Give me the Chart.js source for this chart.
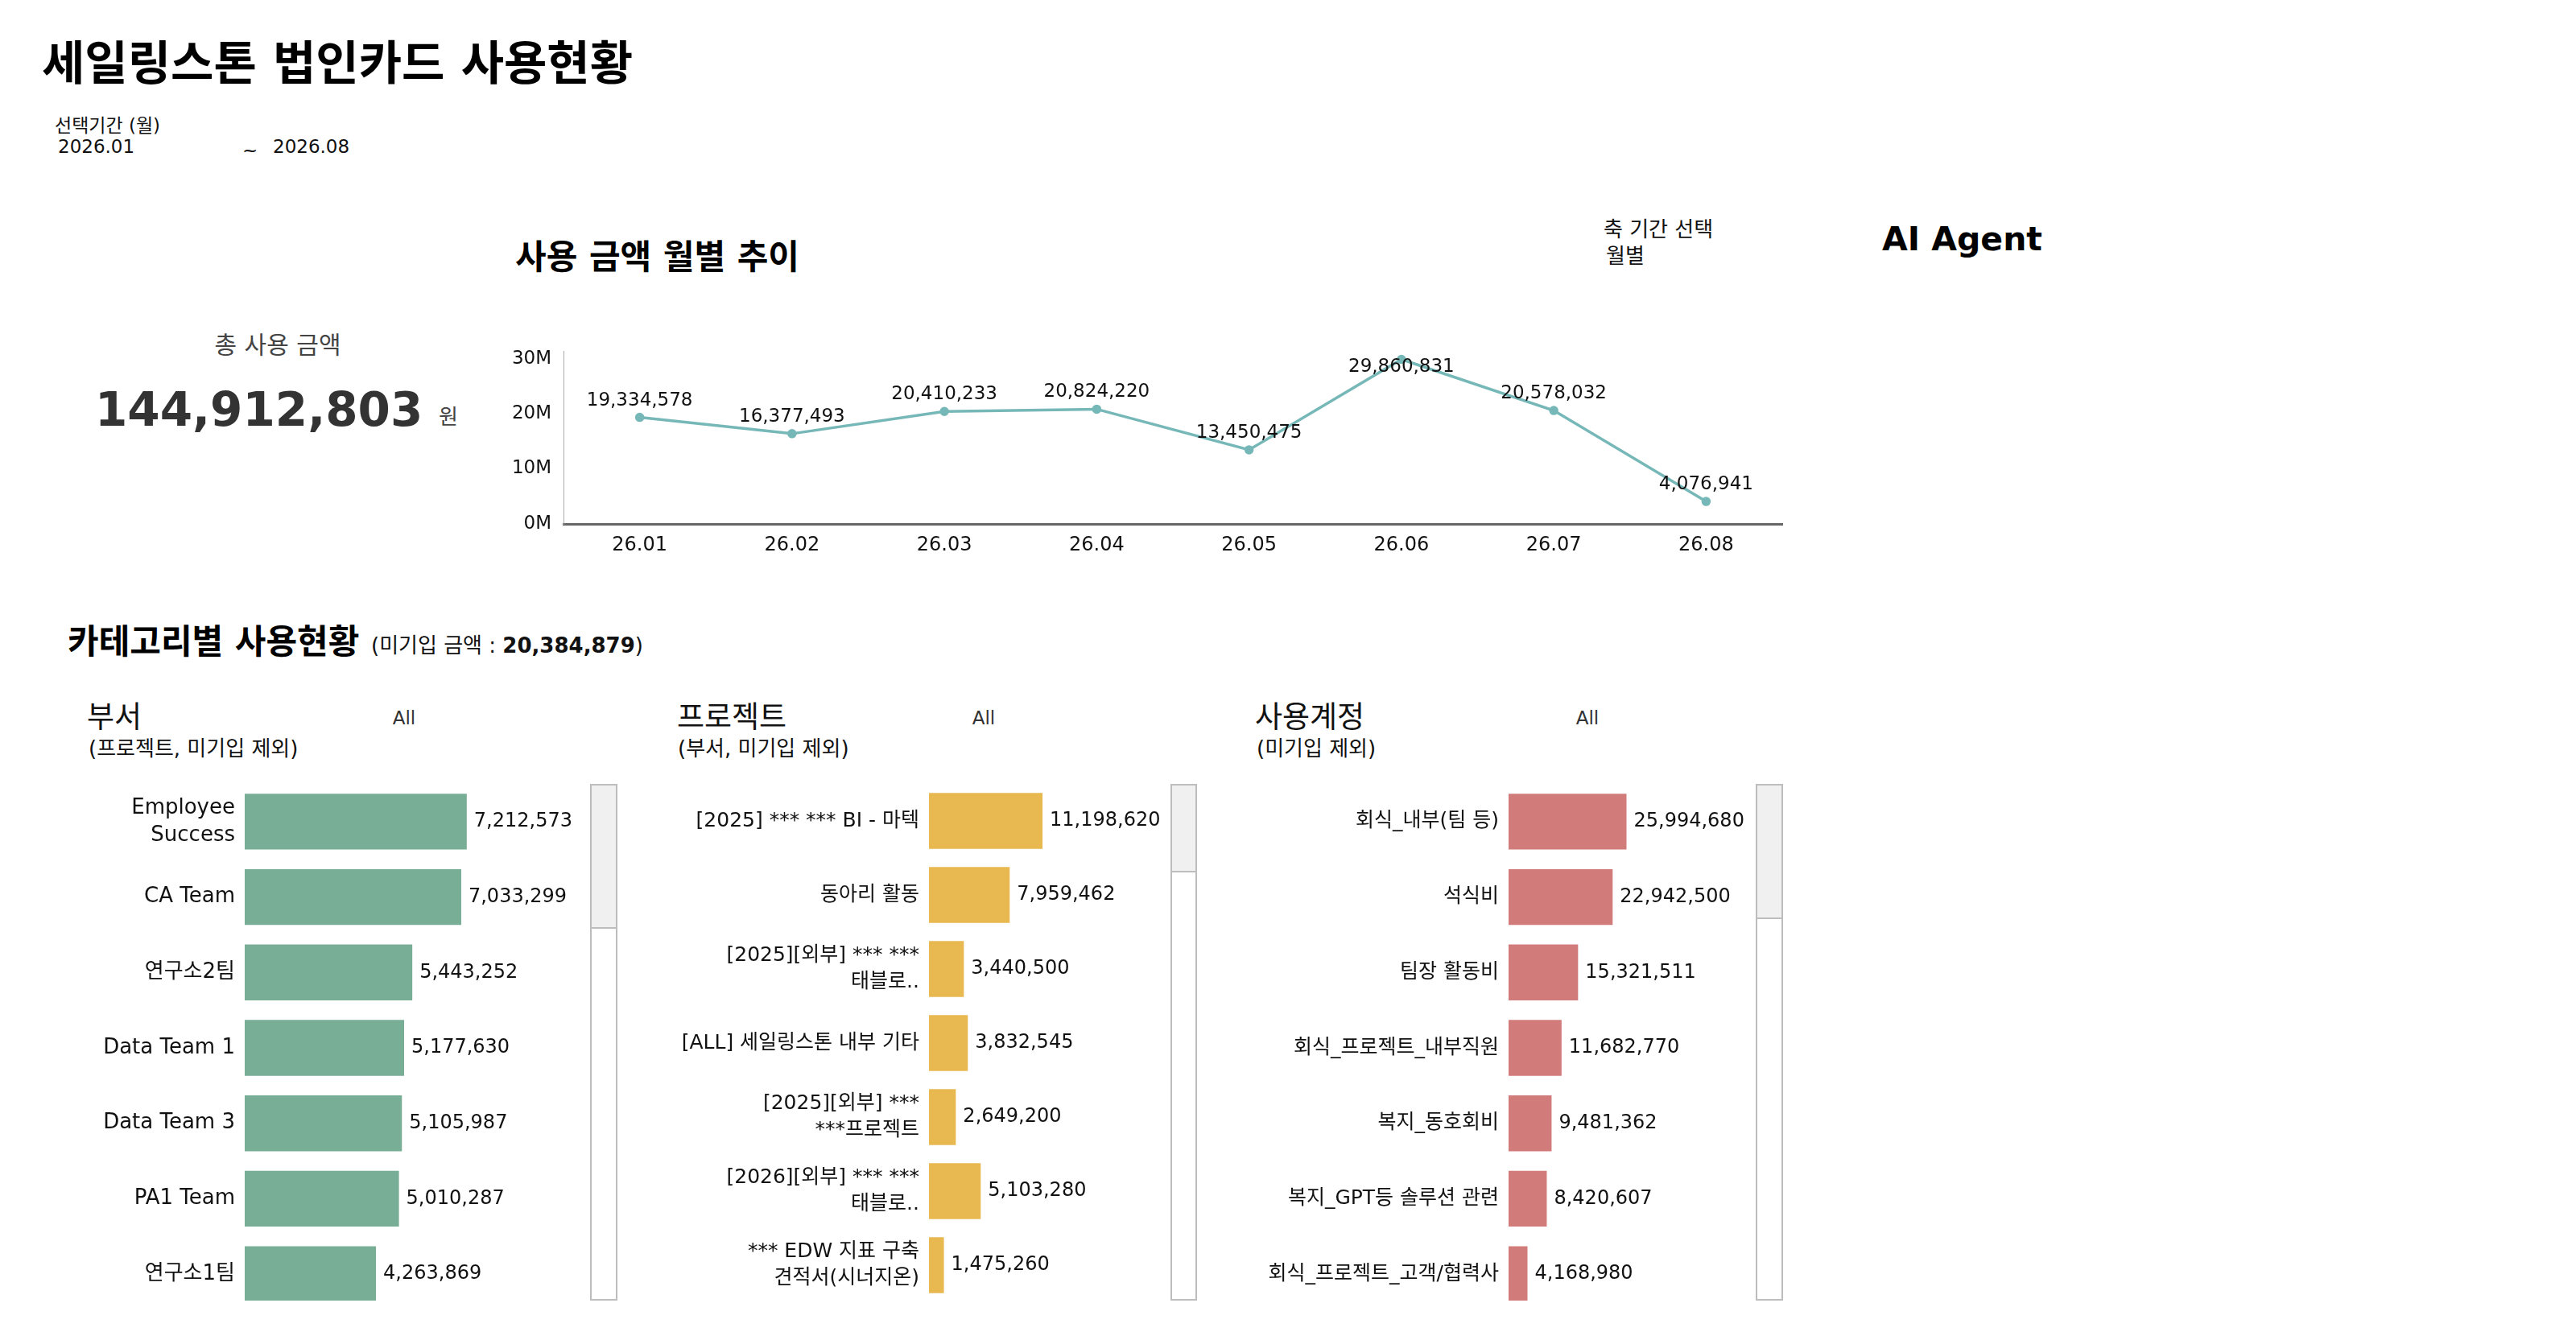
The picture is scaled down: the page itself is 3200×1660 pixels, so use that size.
<!DOCTYPE html>
<html lang="ko">
<head>
<meta charset="utf-8">
<title>세일링스톤 법인카드 사용현황</title>
<script src="https://cdn.jsdelivr.net/npm/chart.js@4.4.1/dist/chart.umd.min.js"></script>
<style>
  html, body { margin: 0; padding: 0; background: #fff; }
  body { width: 3200px; height: 1660px; position: relative; overflow: hidden;
         font-family: 'DejaVu Sans', 'Noto Sans CJK KR', sans-serif; color: #111; }
  .t { position: absolute; line-height: 1; white-space: nowrap; }
  .c { transform: translateX(-50%); }
  canvas { position: absolute; }
  .clip { position: absolute; overflow: hidden; }
  .clip canvas { left: 0; top: 0; }
  .scroll { position: absolute; box-sizing: border-box; border: 2px solid #bdbdbd; background: #fff; }
  .thumb { position: absolute; left: 0; right: 0; top: 0; background: #f0f0f0; border-bottom: 2px solid #bdbdbd; }
</style>
</head>
<body>

<div class="t" style="left:52px;top:50px;font-size:58px;font-weight:bold;color:#000">세일링스톤 법인카드 사용현황</div>
<div class="t" style="left:68px;top:145px;font-size:23px">선택기간 (월)</div>
<div class="t" style="left:72px;top:171px;font-size:23px">2026.01</div>
<div class="t" style="left:301px;top:176px;font-size:23px">~</div>
<div class="t" style="left:339px;top:171px;font-size:23px">2026.08</div>

<div class="t" style="left:640px;top:299px;font-size:42px;font-weight:bold;color:#000">사용 금액 월별 추이</div>
<div class="t" style="left:1992px;top:272px;font-size:26px">축 기간 선택</div>
<div class="t" style="left:1995px;top:305px;font-size:26px">월별</div>
<div class="t" style="left:2338px;top:277px;font-size:41px;font-weight:bold;color:#000">AI Agent</div>

<div class="t c" style="left:345px;top:414px;font-size:30px;color:#444">총 사용 금액</div>
<div class="t" id="total" style="left:118px;top:480px;font-size:58px;font-weight:bold;color:#333"></div>
<div class="t" style="left:545px;top:505px;font-size:26px;color:#444">원</div>

<canvas id="trend" width="1630" height="290" style="left:600px;top:420px"></canvas>

<div class="t" style="left:84px;top:777px;font-size:42px;font-weight:bold;color:#000">카테고리별 사용현황</div>
<div class="t" style="left:461px;top:789px;font-size:26px">(미기입 금액 : <b id="unassigned"></b>)</div>

<div class="t" style="left:108px;top:873px;font-size:37px">부서</div>
<div class="t" style="left:110px;top:917px;font-size:26px">(프로젝트, 미기입 제외)</div>
<div class="t c" style="left:502px;top:881px;font-size:23px;color:#333">All</div>

<div class="t" style="left:841px;top:873px;font-size:37px">프로젝트</div>
<div class="t" style="left:842px;top:917px;font-size:26px">(부서, 미기입 제외)</div>
<div class="t c" style="left:1222px;top:881px;font-size:23px;color:#333">All</div>

<div class="t" style="left:1559px;top:873px;font-size:37px">사용계정</div>
<div class="t" style="left:1561px;top:917px;font-size:26px">(미기입 제외)</div>
<div class="t c" style="left:1972px;top:881px;font-size:23px;color:#333">All</div>

<div class="clip" style="left:80px;top:974px;width:650px;height:642px"><canvas id="dept" width="650" height="656"></canvas></div>
<div class="clip" style="left:820px;top:974px;width:630px;height:642px"><canvas id="project" width="630" height="644"></canvas></div>
<div class="clip" style="left:1540px;top:974px;width:640px;height:642px"><canvas id="account" width="640" height="656"></canvas></div>

<div class="scroll" style="left:733px;top:974px;width:34px;height:642px"><div class="thumb" style="height:176px"></div></div>
<div class="scroll" style="left:1454px;top:974px;width:33px;height:642px"><div class="thumb" style="height:106px"></div></div>
<div class="scroll" style="left:2181px;top:974px;width:34px;height:642px"><div class="thumb" style="height:164px"></div></div>

<script>
// 월별 사용 금액
const months = ['26.01', '26.02', '26.03', '26.04', '26.05', '26.06', '26.07', '26.08'];
const monthlyAmounts = [19334578, 16377493, 20410233, 20824220, 13450475, 29860831, 20578032, 4076941];
const monthTicks = [0, 10000000, 20000000, 30000000];

// 부서
const deptNames = [['Employee', 'Success'], 'CA Team', '연구소2팀', 'Data Team 1', 'Data Team 3', 'PA1 Team', '연구소1팀'];
const deptAmounts = [7212573, 7033299, 5443252, 5177630, 5105987, 5010287, 4263869];

// 프로젝트
const projectNames = [
  '[2025] *** *** BI - 마텍',
  '동아리 활동',
  ['[2025][외부] *** ***', '태블로..'],
  '[ALL] 세일링스톤 내부 기타',
  ['[2025][외부] ***', '***프로젝트'],
  ['[2026][외부] *** ***', '태블로..'],
  ['*** EDW 지표 구축', '견적서(시너지온)'],
];
const projectAmounts = [11198620, 7959462, 3440500, 3832545, 2649200, 5103280, 1475260];

// 사용계정
const accountNames = ['회식_내부(팀 등)', '석식비', '팀장 활동비', '회식_프로젝트_내부직원', '복지_동호회비', '복지_GPT등 솔루션 관련', '회식_프로젝트_고객/협력사'];
const accountAmounts = [25994680, 22942500, 15321511, 11682770, 9481362, 8420607, 4168980];

const unassignedAmount = 20384879;

const FONT = "'DejaVu Sans', 'Noto Sans CJK KR', sans-serif";
Chart.defaults.font.family = FONT;
Chart.defaults.color = '#111';

const fmt = v => v.toLocaleString('en-US');

document.getElementById('total').textContent = fmt(monthlyAmounts.reduce((a, b) => a + b, 0));
document.getElementById('unassigned').textContent = fmt(unassignedAmount);

// no extra room for the end labels, the plot area is fixed by the page layout
const noPad = s => { s.paddingTop = 0; s.paddingBottom = 0; s.paddingLeft = 0; s.paddingRight = 0; };

// value labels above line points
const pointLabels = {
  id: 'pointLabels',
  afterDatasetsDraw(chart) {
    const { ctx, chartArea } = chart;
    const values = chart.data.datasets[0].data;
    ctx.save();
    ctx.font = '23px ' + FONT;
    ctx.fillStyle = '#111';
    ctx.textAlign = 'center';
    ctx.textBaseline = 'middle';
    chart.getDatasetMeta(0).data.forEach((pt, i) => {
      const y = Math.max(pt.y - 21, chartArea.top + 20);
      ctx.fillText(fmt(values[i]), pt.x, y);
    });
    ctx.restore();
  }
};

// value labels at bar ends
const barValues = {
  id: 'barValues',
  afterDatasetsDraw(chart) {
    const { ctx } = chart;
    const values = chart.data.datasets[0].data;
    ctx.save();
    ctx.font = '24px ' + FONT;
    ctx.fillStyle = '#111';
    ctx.textAlign = 'left';
    ctx.textBaseline = 'middle';
    chart.getDatasetMeta(0).data.forEach((bar, i) => {
      ctx.fillText(fmt(values[i]), bar.x + 9, bar.y);
    });
    ctx.restore();
  }
};

new Chart(document.getElementById('trend'), {
  type: 'line',
  data: {
    labels: months,
    datasets: [{
      data: monthlyAmounts,
      borderColor: '#76b7b8',
      backgroundColor: '#76b7b8',
      borderWidth: 3.5,
      pointRadius: 4,
      pointHoverRadius: 4,
      tension: 0,
    }]
  },
  options: {
    responsive: false,
    animation: false,
    layout: { padding: { top: 16, right: 16, left: 0, bottom: 0 } },
    plugins: { legend: { display: false }, tooltip: { enabled: false } },
    scales: {
      x: {
        offset: true,
        grid: { display: false, drawTicks: false },
        border: { color: '#666', width: 3 },
        ticks: { color: '#111', padding: 12, font: { size: 24 } },
        afterFit: s => { noPad(s); s.height = 59; },
      },
      y: {
        min: 0,
        max: 31400000,
        grid: { display: false, drawTicks: false },
        border: { color: '#aaa', width: 1 },
        afterBuildTicks: s => { s.ticks = monthTicks.map(v => ({ value: v })); },
        ticks: { color: '#111', padding: 15, font: { size: 23 }, callback: v => (v / 1000000) + 'M' },
        afterFit: s => { noPad(s); s.width = 100; },
      }
    }
  },
  plugins: [pointLabels]
});

function makeBarChart(id, names, amounts, color, max, axisWidth, barPct, labelSize) {
  return new Chart(document.getElementById(id), {
    type: 'bar',
    data: {
      labels: names,
      datasets: [{ data: amounts, backgroundColor: color, barPercentage: barPct, categoryPercentage: 1 }]
    },
    options: {
      indexAxis: 'y',
      responsive: false,
      animation: false,
      layout: { padding: 0 },
      plugins: { legend: { display: false }, tooltip: { enabled: false } },
      scales: {
        x: { display: false, min: 0, max: max },
        y: {
          grid: { display: false, drawTicks: false },
          border: { display: false },
          ticks: { color: '#111', padding: 12, autoSkip: false, font: { size: labelSize, lineHeight: 1.3 } },
          afterFit: s => { noPad(s); s.width = axisWidth; },
        }
      }
    },
    plugins: [barValues]
  });
}

makeBarChart('dept', deptNames, deptAmounts, '#78ad96', 11140000, 224, 0.74, 26);
makeBarChart('project', projectNames, projectAmounts, '#e8b950', 23500000, 334, 0.755, 25);
makeBarChart('account', accountNames, accountAmounts, '#d17c7b', 54300000, 334, 0.74, 25);
</script>
</body>
</html>
